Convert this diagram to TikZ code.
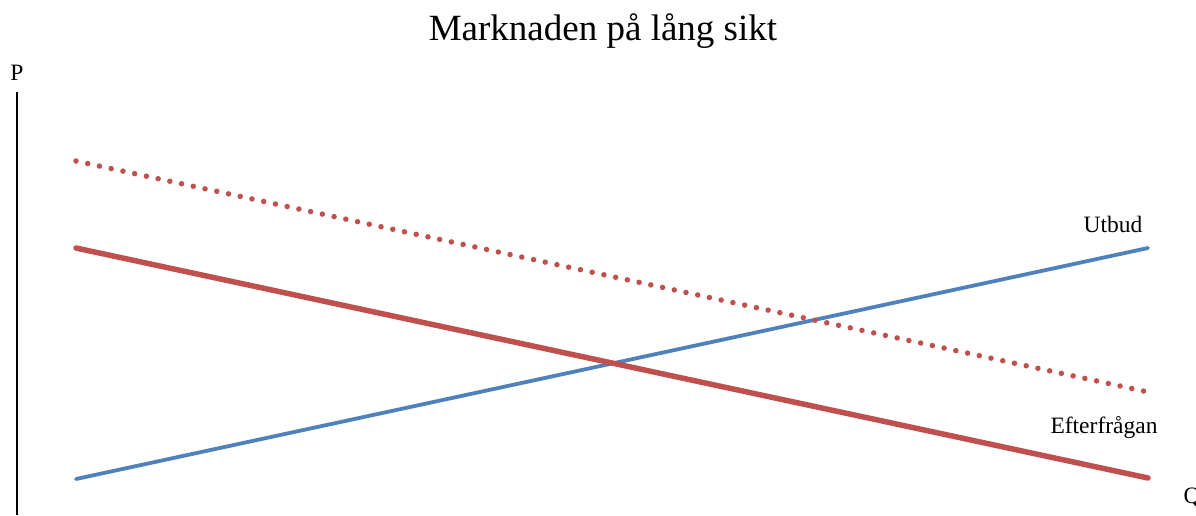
\documentclass[tikz,border=0pt]{standalone}
\usepackage{fontspec}
\setmainfont{Liberation Serif}
\definecolor{offred}{HTML}{C0504D}
\definecolor{offblue}{HTML}{4F81BD}
\begin{document}
\begin{tikzpicture}[x=1pt,y=-1pt,
  lbl/.style={inner sep=0pt,font=\fontsize{23.5}{26}\selectfont},
  demand/.style={draw=offred,line width=5.5pt,line cap=round},
  demandnew/.style={draw=offred,line width=5.5pt,line cap=round,dash pattern=on 0pt off 12pt},
  supply/.style={draw=offblue,line width=3.8pt,line cap=round},
  axis/.style={draw=black,line width=2pt}]
\useasboundingbox (0,0) rectangle (1196,515);
\node[inner sep=0pt,font=\fontsize{37}{40}\selectfont] (title) at (603,31) {Marknaden på lång sikt};
\node[lbl] (P) at (17,73) {P};
\node[lbl] (Q) at (1192,498) {Q};
\node[lbl] (utbud) at (1113,224) {Utbud};
\node[lbl] (eft) at (1104,428) {Efterfrågan};
\coordinate (ytop) at (17,92);
\coordinate (ybot) at (17,515);
\coordinate (d1) at (76,248);
\coordinate (d2) at (1148,478);
\coordinate (n1) at (76,161);
\coordinate (n2) at (1148,392);
\coordinate (s1) at (76,479);
\coordinate (s2) at (1148,248);
\draw[axis] (ytop) -- (ybot);
\draw[supply] (s1) -- (s2);
\draw[demand] (d1) -- (d2);
\draw[demandnew] (n1) -- (n2);
\end{tikzpicture}
\end{document}
